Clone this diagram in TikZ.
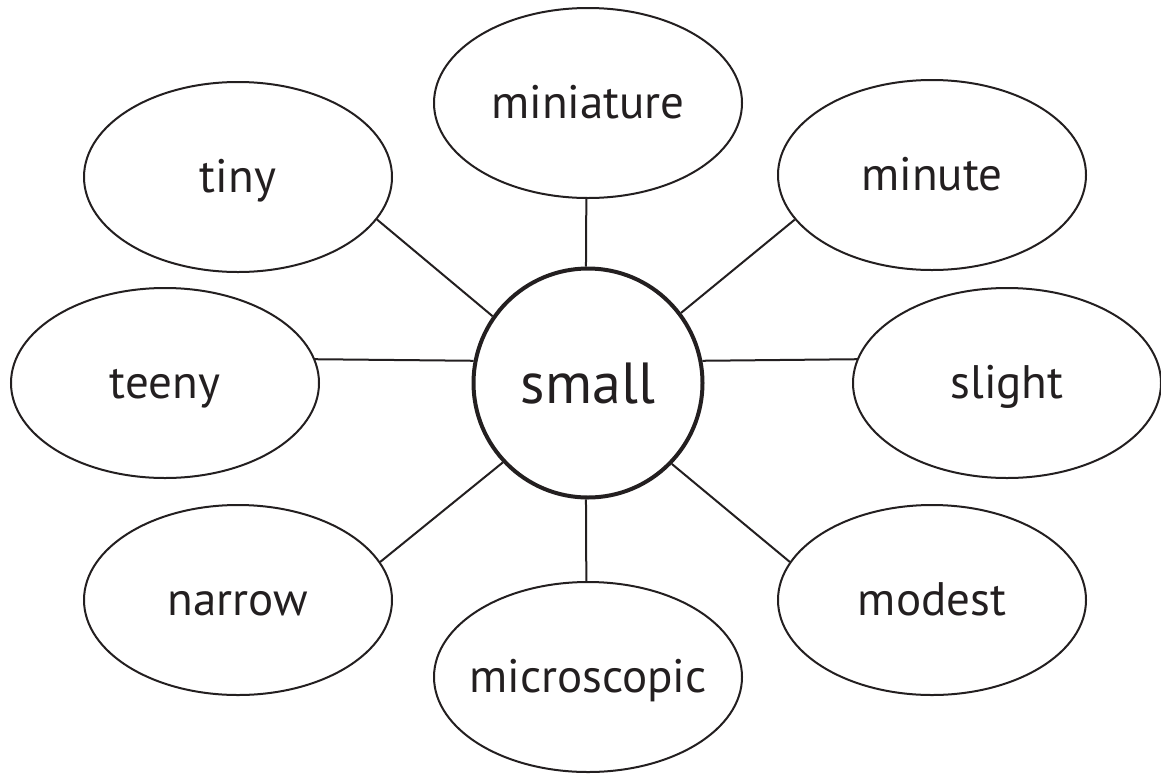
\documentclass[tikz,border=0pt]{standalone}
\usepackage{fontspec}
\setmainfont{PT Sans}
\usepackage{tikz}
\usetikzlibrary{shapes.geometric}
\definecolor{ink}{HTML}{231F20}

\begin{document}
\begin{tikzpicture}[x=1pt,y=-1pt,
  word/.style={ellipse,draw=ink,line width=2pt,minimum width=308pt,minimum height=190pt,inner xsep=-60pt,inner ysep=0pt,text=ink,font=\fontsize{47}{54}\selectfont,text height=30pt,text depth=0pt},
  hub/.style={circle,draw=ink,line width=4pt,minimum size=229pt,inner sep=0pt,text=ink,font=\fontsize{58}{66}\selectfont,text height=40pt,text depth=0pt},
  spoke/.style={draw=ink,line width=2pt}]
\useasboundingbox (0,0) rectangle (1161,774);
% ---- hub ----
\node[hub] (small) at (588,383) {small};
% ---- ring of words ----
\node[word] (miniature) at (588,103) {miniature};
\node[word] (tiny) at (238,177) {tiny};
\node[word] (minute) at (932,175) {minute};
\node[word] (teeny) at (165,383) {teeny};
\node[word] (slight) at (1007,383) {slight};
\node[word] (narrow) at (238,600) {narrow};
\node[word] (modest) at (932,600) {modest};
\node[word] (microscopic) at (588,677) {microscopic};
% ---- spokes ----
\draw[spoke] (small.91) -- (miniature.-91);
\draw[spoke] (small.145) -- (tiny.-17);
\draw[spoke] (small.37) -- (minute.-162);
\draw[spoke] (small.169) -- (teeny.9);
\draw[spoke] (small.11) -- (slight.171);
\draw[spoke] (small.-137) -- (narrow.15);
\draw[spoke] (small.-44) -- (modest.165);
\draw[spoke] (small.-91) -- (microscopic.91);
\end{tikzpicture}
\end{document}
